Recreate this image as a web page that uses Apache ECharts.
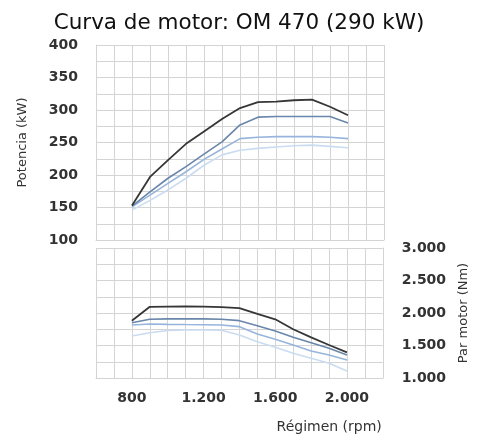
<!DOCTYPE html>
<html>
<head>
<meta charset="utf-8">
<title>Curva de motor</title>
<script src="https://cdn.jsdelivr.net/npm/echarts@6/dist/echarts.min.js"></script>
<style>
  html, body { margin: 0; padding: 0; background: #fff; }
  #chart { width: 478px; height: 435px; }
</style>
</head>
<body>
<div id="chart"></div>
<script>
// régimen (rpm)
const rpm = [800, 900, 1000, 1100, 1200, 1300, 1400, 1500, 1600, 1700, 1800, 1900, 2000]

// potencia (kW), de la curva más oscura a la más clara
const potencia1 = [153, 197, 223, 248, 267, 286, 303, 312, 313, 315, 316, 305, 292]
const potencia2 = [152, 174, 195, 213, 232, 251, 277, 289, 290, 290, 290, 290, 280]
const potencia3 = [151, 169, 187, 205, 224, 240, 256, 258, 259, 259, 259, 258, 256]
const potencia4 = [146, 161, 177, 195, 215, 231, 238, 241, 243, 245, 246, 244, 242]

// par motor (Nm)
const par1 = [1880, 2095, 2098, 2100, 2098, 2090, 2075, 1985, 1903, 1750, 1626, 1508, 1395]
const par2 = [1850, 1903, 1910, 1912, 1910, 1905, 1882, 1805, 1723, 1626, 1543, 1456, 1354]
const par3 = [1815, 1830, 1825, 1822, 1820, 1815, 1790, 1677, 1595, 1508, 1415, 1354, 1277]
const par4 = [1646, 1697, 1730, 1738, 1738, 1735, 1662, 1559, 1472, 1380, 1303, 1226, 1108]

const colores = ['#363636', '#6a86aa', '#97b5dc', '#cadcf1']

const gridColor = '#d4d4d4'
const labelStyle = { color: '#333', fontSize: 14, fontWeight: 'bold', fontFamily: 'DejaVu Sans' }
const nameStyle = { color: '#333', fontSize: 13, fontFamily: 'DejaVu Sans' }

function miles(v) {
  return v >= 1000 ? Math.floor(v / 1000) + '.' + String(v % 1000).padStart(3, '0') : String(v)
}

function pares(vals) {
  return rpm.map((r, i) => [r, vals[i]])
}

const chart = echarts.init(document.getElementById('chart'))

const potencias = [potencia1, potencia2, potencia3, potencia4]
const pares_ = [par1, par2, par3, par4]

const series = []
// las claras primero para que la oscura quede encima
for (let i = 3; i >= 0; i--) {
  series.push({
    type: 'line', xAxisIndex: 0, yAxisIndex: 0, symbol: 'none',
    lineStyle: { width: i === 0 ? 1.8 : 1.6, color: colores[i] },
    data: pares(potencias[i]),
  })
  series.push({
    type: 'line', xAxisIndex: 1, yAxisIndex: 1, symbol: 'none',
    lineStyle: { width: i === 0 ? 1.8 : 1.6, color: colores[i] },
    data: pares(pares_[i]),
  })
}

const xBase = {
  type: 'value', min: 600, max: 2200, interval: 100,
  axisLine: { show: true, lineStyle: { color: gridColor } },
  axisTick: { show: false },
  splitLine: { show: true, lineStyle: { color: gridColor, width: 1 } },
}

chart.setOption({
  animation: false,
  title: {
    text: 'Curva de motor: OM 470 (290 kW)',
    left: 'center', top: 7,
    textStyle: { color: '#111', fontSize: 21.5, fontWeight: 'normal', fontFamily: 'DejaVu Sans' },
  },
  grid: [
    { left: 96, right: 94, top: 45, height: 195 },
    { left: 96, right: 94, top: 248, height: 130 },
  ],
  xAxis: [
    Object.assign({}, xBase, { gridIndex: 0, axisLabel: { show: false } }),
    Object.assign({}, xBase, {
      gridIndex: 1,
      axisLabel: Object.assign({}, labelStyle, {
        margin: 13,
        formatter: v => (v >= 800 && v <= 2000 && v % 400 === 0 ? miles(v) : ''),
      }),
      name: 'Régimen (rpm)',
      nameLocation: 'end',
      nameGap: -1,
      nameTextStyle: Object.assign({}, nameStyle, {
        fontSize: 14, align: 'right', verticalAlign: 'top', padding: [42, 0, 0, 0],
      }),
    }),
  ],
  yAxis: [
    {
      type: 'value', gridIndex: 0, min: 100, max: 400, interval: 25,
      axisLine: { show: true, lineStyle: { color: gridColor } },
      axisTick: { show: false },
      splitLine: { show: true, lineStyle: { color: gridColor, width: 1 } },
      axisLabel: Object.assign({}, labelStyle, {
        margin: 18,
        formatter: v => (v % 50 === 0 ? String(v) : ''),
      }),
      name: 'Potencia (kW)',
      nameLocation: 'middle',
      nameGap: 67,
      nameTextStyle: nameStyle,
    },
    {
      type: 'value', gridIndex: 1, position: 'right', min: 1000, max: 3000, interval: 250,
      axisLine: { show: true, lineStyle: { color: gridColor } },
      axisTick: { show: false },
      splitLine: { show: true, lineStyle: { color: gridColor, width: 1 } },
      axisLabel: Object.assign({}, labelStyle, {
        margin: 19,
        formatter: v => (v % 500 === 0 ? miles(v) : ''),
      }),
      name: 'Par motor (Nm)',
      nameLocation: 'middle',
      nameRotate: 90,
      nameGap: 72,
      nameTextStyle: nameStyle,
    },
  ],
  series: series,
})
</script>
</body>
</html>
